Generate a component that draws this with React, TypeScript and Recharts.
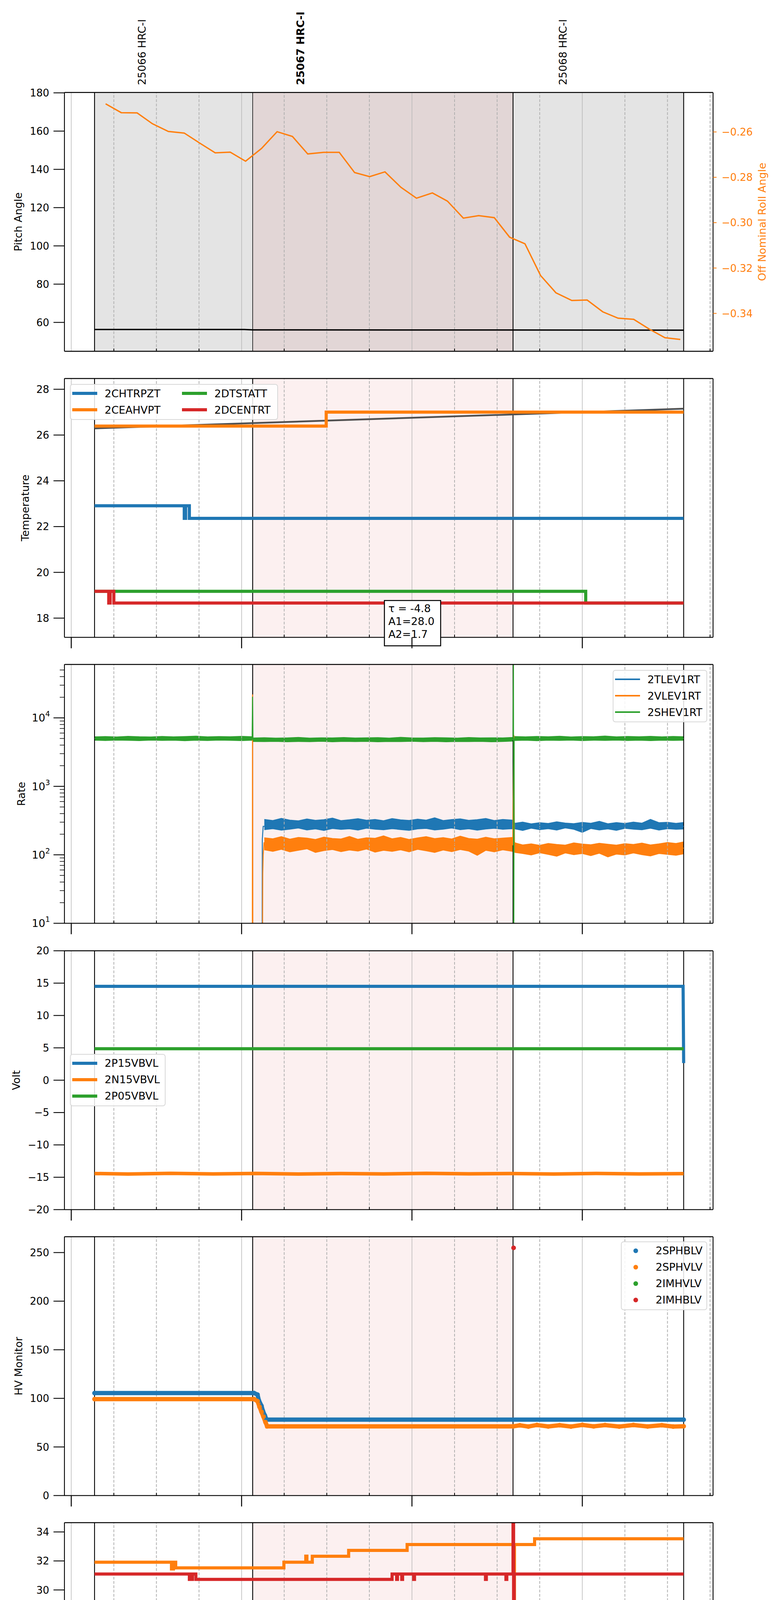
import React from "react";
import { ComposedChart, Line, Area, XAxis, YAxis, ReferenceLine, ReferenceArea, ReferenceDot, Legend } from "recharts";

const FONT = "DejaVu Sans";
const BLUE = "#1f77b4";
const ORANGE = "#ff7f0e";
const GREEN = "#2ca02c";
const RED = "#d62728";

// time axis: minutes after 04:00 on 2021-07-03
const X_DOMAIN: [number, number] = [-2.4, 226.05];
const quarterTicks = [0, 15, 30, 45, 60, 75, 90, 105, 120, 135, 150, 165, 180, 195, 210, 225];
const hourTicks = [0, 60, 120, 180];
const hourLabels = ["04h", "05h", "06h", "07h"];
const dateLabel = "2021-07-03 (184)";

const obsBounds = [8.2, 63.9, 155.6, 215.7];
const obsIds = ["25066 HRC-I", "25067 HRC-I", "25068 HRC-I"];
const obsLabelT = [24.9, 80.7, 173.2];
const currentObs = "25067 HRC-I";

// panel 1: pitch / off nominal roll
const pitchAngle = [[8.2, 56.3], [61.0, 56.3], [64.0, 56.1], [215.7, 55.95]];
const rollAngle = [
  [12.1, -0.2476], [17.6, -0.2515], [23.2, -0.2516], [28.6, -0.2564], [34.2, -0.2598], [39.8, -0.2605],
  [45.1, -0.2648], [50.7, -0.2692], [56.0, -0.2689], [61.4, -0.2729], [67.0, -0.2673], [72.5, -0.2599],
  [77.9, -0.262], [83.3, -0.2697], [88.9, -0.269], [94.4, -0.269], [99.8, -0.2779], [105.1, -0.2797],
  [110.5, -0.2776], [116.1, -0.2844], [121.6, -0.2892], [127.2, -0.2869], [132.5, -0.2905], [138.1, -0.298],
  [143.5, -0.2969], [149.0, -0.2978], [154.4, -0.3064], [159.8, -0.3093], [165.3, -0.3233], [170.7, -0.3309],
  [176.3, -0.3343], [181.7, -0.3341], [187.2, -0.3393], [192.6, -0.3421], [198.1, -0.3426], [203.7, -0.347],
  [209.1, -0.3507], [214.5, -0.3515],
];

// panel 2: temperature
const tempChtrpzt = [[8.2, 22.91], [39.8, 22.36], [40.3, 22.91], [41.6, 22.36], [215.7, 22.36]];
const tempCeahvpt = [[8.2, 26.39], [89.8, 27.0], [215.7, 27.0]];
const tempDtstatt = [[8.2, 19.17], [181.2, 18.66], [215.7, 18.66]];
const tempDcentrt = [[8.2, 19.17], [13.2, 18.66], [13.7, 19.17], [15.0, 18.66], [215.7, 18.66]];
const tempFit = [[8.2, 26.29], [215.7, 27.15]];
const fitText = ["τ = -4.8", "A1=28.0", "A2=1.7"];
const fitBoxAt = [120.2, 18.77];

// panel 3: rates  [t, low, high] bands + single traces
const tlevBand = [
  [68, 232, 330], [71, 240, 318], [74, 228, 342], [77, 236, 322], [80, 245, 315], [83, 230, 335], [86, 238, 320],
  [89, 226, 328], [92, 241, 345], [95, 234, 317], [98, 239, 326], [101, 229, 338], [104, 244, 321], [107, 236, 330],
  [110, 231, 316], [113, 240, 340], [116, 233, 325], [119, 227, 319], [122, 238, 333], [125, 242, 322], [128, 230, 348],
  [131, 236, 318], [134, 245, 329], [137, 232, 336], [140, 239, 320], [143, 228, 327], [146, 237, 341], [149, 243, 318],
  [152, 235, 330], [155.4, 240, 322], [156.3, 238, 290], [159, 226, 302], [162, 244, 284], [165, 232, 296], [168, 240, 288],
  [171, 229, 305], [174, 246, 292], [177, 235, 286], [180, 212, 299], [183, 241, 290], [186, 230, 310], [189, 238, 285],
  [192, 227, 297], [195, 243, 288], [198, 236, 302], [201, 231, 291], [204, 244, 330], [207, 229, 296], [210, 240, 300],
  [213, 235, 289], [215.7, 237, 298],
];
const vlevBand = [
  [68, 118, 178], [71, 112, 172], [74, 120, 185], [77, 110, 170], [80, 116, 180], [83, 122, 176], [86, 108, 168],
  [89, 115, 182], [92, 119, 174], [95, 111, 171], [98, 117, 186], [101, 113, 169], [104, 121, 178], [107, 109, 175],
  [110, 116, 190], [113, 112, 172], [116, 118, 180], [119, 110, 168], [122, 120, 177], [125, 114, 185], [128, 108, 173],
  [131, 117, 179], [134, 111, 171], [137, 119, 188], [140, 113, 174], [143, 98, 170], [146, 116, 181], [149, 110, 172],
  [152, 118, 176], [155.4, 112, 180], [156.3, 108, 150], [159, 104, 140], [162, 99, 145], [165, 107, 138], [168, 101, 147],
  [171, 95, 142], [174, 106, 139], [177, 100, 150], [180, 104, 144], [183, 97, 141], [186, 105, 148], [189, 93, 143],
  [192, 102, 139], [195, 99, 146], [198, 106, 142], [201, 100, 149], [204, 96, 140], [207, 104, 145], [210, 101, 152],
  [213, 98, 147], [215.7, 103, 155],
];
const shevBand = [
  [8.2, 4700, 5300], [12, 4650, 5350], [16, 4720, 5280], [20, 4680, 5400], [24, 4640, 5320], [28, 4710, 5290],
  [32, 4660, 5380], [36, 4700, 5310], [40, 4620, 5350], [44, 4690, 5420], [48, 4650, 5300], [52, 4720, 5360],
  [56, 4680, 5330], [60, 4640, 5390], [63.8, 4700, 5320], [64.1, 4500, 5100], [68, 4480, 5150], [72, 4520, 5080],
  [76, 4460, 5120], [80, 4500, 5200], [84, 4470, 5090], [88, 4530, 5140], [92, 4450, 5110], [96, 4510, 5180],
  [100, 4480, 5100], [104, 4520, 5130], [108, 4460, 5170], [112, 4500, 5090], [116, 4490, 5210], [120, 4530, 5120],
  [124, 4470, 5100], [128, 4510, 5160], [132, 4460, 5130], [136, 4500, 5090], [140, 4480, 5180], [144, 4520, 5110],
  [148, 4450, 5140], [152, 4500, 5120], [155.5, 4560, 5200], [156.1, 4650, 5350], [160, 4700, 5300], [164, 4620, 5380],
  [168, 4690, 5320], [172, 4660, 5410], [176, 4710, 5290], [180, 4640, 5360], [184, 4700, 5330], [188, 4670, 5440],
  [192, 4720, 5300], [196, 4650, 5370], [200, 4690, 5320], [204, 4630, 5400], [208, 4700, 5310], [212, 4670, 5380],
  [215.7, 4690, 5330],
];
const tlevLine = [[67.2, 1], [67.3, 170], [67.6, 260], [155.5, 270], [155.9, 250], [215.7, 260]];
const vlevLine = [
  [63.75, 1], [63.85, 22000], [63.95, 1], [67.3, 1], [67.45, 54], [67.6, 100], [67.9, 150],
  [155.5, 140], [155.9, 5600], [156.1, 130], [215.7, 125],
];
const shevLine = [
  [8.2, 5000], [63.7, 4900], [63.85, 20300], [64.0, 4750], [155.6, 4800], [155.75, 90000],
  [155.85, 1], [156.0, 4950], [215.7, 5000],
];

// panel 4: volt
const voltP15 = [[8.2, 14.51], [215.5, 14.51], [215.7, 2.64]];
const voltN15 = [
  [8.2, -14.42], [20, -14.5], [35, -14.4], [50, -14.48], [65, -14.41], [80, -14.5], [95, -14.43], [110, -14.49],
  [125, -14.4], [140, -14.47], [155, -14.42], [170, -14.5], [185, -14.41], [200, -14.48], [215.7, -14.44],
];
const voltP05 = [[8.2, 4.87], [215.7, 4.87]];

// panel 5: HV monitor
const hvSphblv = [[8.2, 105.4], [64.4, 105.4], [65.6, 103.8], [66.1, 97.7], [67.0, 92.3], [67.5, 87.1], [68.2, 82.3], [68.8, 78.1], [215.7, 78.1]];
const hvSphvlv = [
  [8.2, 99.2], [64.4, 99.2], [65.6, 97.1], [66.3, 91.4], [67.0, 86.2], [67.7, 81.2], [68.4, 75.6], [69.0, 71.2],
  [155.6, 71.2], [158, 72.3], [161, 71.0], [164, 72.6], [168, 71.1], [172, 72.4], [176, 71.0], [180, 72.7],
  [184, 71.2], [188, 72.5], [193, 71.0], [198, 72.6], [203, 71.1], [208, 72.4], [212, 71.0], [215.7, 71.3],
];
const hvImhvlv: number[][] = [];
const hvImhblv = [[155.8, 254.8]];

// panel 6: detector temp
const detSpinatm = [[8.2, 18.27], [215.7, 18.27]];
const detSphvatm = [
  [8.2, 31.91], [35.3, 31.45], [36.0, 31.91], [36.8, 31.52], [74.9, 31.91], [82.6, 32.33], [83.0, 31.91],
  [84.9, 32.32], [97.7, 32.73], [118.3, 33.13], [155.9, 19.0], [156.1, 33.13], [163.2, 33.53], [215.7, 33.53],
];
const detIminatm = [
  [8.2, 19.61], [52.6, 18.94], [53.7, 19.61], [54.5, 18.94], [69.5, 19.61], [69.8, 18.94], [100.4, 19.61],
  [100.7, 18.94], [156.6, 10], [156.8, 18.94], [215.7, 18.94],
];
const detImhvatm = [
  [8.2, 31.1], [41.6, 30.73], [42.7, 31.1], [43.9, 30.73], [113.0, 31.1], [114.6, 30.73], [114.9, 31.1],
  [116.4, 30.73], [116.7, 31.1], [120.6, 30.73], [120.9, 31.1], [145.9, 30.73], [146.2, 31.1], [153.1, 30.73],
  [153.4, 31.1], [155.6, 45], [155.8, 5], [156.0, 31.1], [215.7, 31.1],
];

// panel 7: FEA temp
const feaFhtrmzt = [[8.2, 21.28], [115.6, 20.74], [215.7, 20.74]];
const feaFradpyt = [[8.2, 16.2], [82.8, 15.7], [215.7, 15.7]];
const feaFepratm = [
  [8.2, 23.14], [146.6, 22.41], [146.9, 23.14], [147.4, 22.41], [147.7, 23.14], [148.3, 22.41], [148.6, 23.14],
  [149.7, 22.41], [155.2, 21.1], [155.4, 22.41], [215.7, 22.41],
];
const feaFe00atm = [
  [8.2, 21.41], [75.7, 21.05], [76.0, 21.41], [78.0, 22.05], [78.3, 21.41], [85.9, 21.05], [86.2, 21.41],
  [88.5, 22.05], [88.8, 21.41], [92.2, 22.05], [92.5, 21.41], [104.3, 21.05], [104.6, 21.41], [108.3, 21.08],
  [108.8, 21.41], [109.3, 21.08], [110.1, 20.45], [110.4, 21.08], [111.7, 21.41], [112.0, 21.08], [114.8, 22.05],
  [115.1, 21.08], [118.3, 21.41], [118.6, 21.08], [121.8, 21.41], [122.3, 21.08], [130.6, 21.41], [130.9, 21.08],
  [132.2, 21.41], [132.5, 21.08], [140.1, 21.41], [140.4, 21.08], [144.1, 21.75], [144.4, 21.08], [149.7, 21.41],
  [150.0, 21.08], [155.6, 26], [155.8, 13], [156.0, 21.08], [200.3, 20.76], [201.2, 21.08], [201.6, 20.76],
  [202.5, 21.08], [209.4, 20.76], [209.8, 21.08], [214.7, 20.76], [215.7, 20.76],
];

// y axes
const pitchTicks = [60, 80, 100, 120, 140, 160, 180];
const rollTicks = [-0.34, -0.32, -0.3, -0.28, -0.26];
const tempTicks = [18, 20, 22, 24, 26, 28];
const rateMajor = [10, 100, 1000, 10000];
const rateTicks = [
  10, 20, 30, 40, 50, 60, 70, 80, 90, 100, 200, 300, 400, 500, 600, 700, 800, 900,
  1000, 2000, 3000, 4000, 5000, 6000, 7000, 8000, 9000, 10000, 20000, 30000, 40000, 50000,
];
const voltTicks = [-20, -15, -10, -5, 0, 5, 10, 15, 20];
const hvTicks = [0, 50, 100, 150, 200, 250];
const detTicks = [18, 20, 22, 24, 26, 28, 30, 32, 34];
const feaTicks = [16, 18, 20, 22, 24];

// layout
const PLOT_L = 165;
const PLOT_R = 1826;
const PLOT_H = 662.6;
const PANEL_TOPS = [236.7, 969, 1701.3, 2433.6, 3165.9, 3898.2, 4630.5];

const pts = (a: number[][]) => a.map(([t, v]) => ({ t, v }));
const band = (a: number[][]) => a.map(([t, lo, hi]) => ({ t, r: [lo, hi] }));
const minus = (s: string) => s.replace("-", "\u2212");

function XTick({ x, y, payload, major, labels }: any) {
  const v = payload.value;
  const hi = hourTicks.indexOf(v);
  if (hi >= 0) {
    return (
      <g>
        {major && <line x1={x} x2={x} y1={y} y2={y + 28} stroke="#000" strokeWidth={2.5} />}
        {labels && (
          <text x={x} y={y + 57} textAnchor="middle" fontSize={26} fontFamily={FONT}>{hourLabels[hi]}</text>
        )}
      </g>
    );
  }
  return (
    <g>
      <line x1={x} x2={x} y1={y - 7} y2={y} stroke="#000" strokeWidth={2} />
      {labels && (
        <text x={x} y={y + 19} textAnchor="middle" fontSize={18} fontFamily={FONT}>{v % 60}</text>
      )}
    </g>
  );
}

function YTick({ x, y, payload, majors, log, right, color, digits }: any) {
  const v = payload.value;
  const isMajor = !majors || majors.includes(v);
  const c = color || "#000";
  if (right) {
    return (
      <g>
        <line x1={x} x2={x + 9} y1={y} y2={y} stroke={c} strokeWidth={2} />
        <text x={x + 22} y={y} dy="0.36em" fontSize={26} fontFamily={FONT} fill={c}>{minus(v.toFixed(digits))}</text>
      </g>
    );
  }
  const len = isMajor ? 28 : 12;
  return (
    <g>
      <line x1={x - len} x2={x} y1={y} y2={y} stroke={c} strokeWidth={isMajor ? 2.2 : 1.5} />
      {isMajor && !log && (
        <text x={x - 39} y={y} dy="0.36em" textAnchor="end" fontSize={26} fontFamily={FONT} fill={c}>{minus(String(v))}</text>
      )}
      {isMajor && log && (
        <text x={x - 37} y={y} dy="0.36em" textAnchor="end" fontSize={27} fontFamily={FONT} fill={c}>
          10<tspan dy={-13} fontSize={19}>{Math.round(Math.log10(v))}</tspan>
        </text>
      )}
    </g>
  );
}

function LegendBox({ items, cols, colW, lineW }: any) {
  const rows = Math.ceil(items.length / cols);
  return (
    <div
      style={{
        boxSizing: "border-box",
        border: "2px solid #d8d8d8",
        borderRadius: 7,
        background: "rgba(255,255,255,0.85)",
        padding: "1px 8px 3px 4px",
        display: "grid",
        gridAutoFlow: "column",
        gridTemplateRows: `repeat(${rows}, 42px)`,
        gridTemplateColumns: cols > 1 ? `${colW}px auto` : "auto",
        fontFamily: FONT,
        fontSize: 27,
        color: "#000",
        lineHeight: 1,
      }}
    >
      {items.map((it: any) => (
        <div key={it.name} style={{ display: "flex", alignItems: "center", height: 42 }}>
          {it.dot ? (
            <div style={{ width: 64, display: "flex", justifyContent: "center" }}>
              <div style={{ width: 12, height: 12, borderRadius: 6, background: it.color }} />
            </div>
          ) : (
            <div style={{ width: 64, height: lineW, background: it.color }} />
          )}
          <span style={{ marginLeft: 19 }}>{it.name}</span>
        </div>
      ))}
    </div>
  );
}

function FitBox({ cx, cy }: any) {
  return (
    <g>
      <rect x={cx - 72} y={cy} width={144} height={116} fill="#fff" stroke="#000" strokeWidth={2.5} />
      {fitText.map((s, i) => (
        <text key={s} x={cx - 62} y={cy + 30 + i * 33} fontSize={27} fontFamily={FONT}>{s}</text>
      ))}
    </g>
  );
}

function Panel(p: any) {
  const mTop = p.mTop ?? 30;
  const xH = p.xH ?? 60;
  const midY = mTop + PLOT_H / 2;
  const lg = p.legend;
  return (
    <div style={{ position: "absolute", left: 0, top: p.top - mTop }}>
      <ComposedChart
        width={2000}
        height={mTop + PLOT_H + xH}
        margin={{ top: mTop, right: p.right ? 0 : 2000 - PLOT_R, bottom: 0, left: 0 }}
      >
        <XAxis
          type="number"
          dataKey="t"
          domain={X_DOMAIN}
          allowDataOverflow
          ticks={quarterTicks}
          interval={0}
          height={xH}
          axisLine={false}
          tickLine={false}
          tickSize={0}
          tickMargin={0}
          tick={(t: any) => <XTick {...t} major={!p.noMajor} labels={p.xLabels} />}
          label={
            p.xLabels
              ? () => (
                  <text x={(PLOT_L + PLOT_R) / 2} y={mTop + PLOT_H + 93} textAnchor="middle" fontSize={32} fontFamily={FONT}>
                    {dateLabel}
                  </text>
                )
              : undefined
          }
        />
        <YAxis
          type="number"
          domain={p.yDomain}
          allowDataOverflow
          scale={p.log ? "log" : "auto"}
          ticks={p.yTicks}
          interval={0}
          width={PLOT_L}
          axisLine={false}
          tickLine={false}
          tickSize={0}
          tickMargin={0}
          tick={(t: any) => <YTick {...t} majors={p.yMajors} log={p.log} />}
          label={() => (
            <text
              x={p.yLabelX}
              y={midY}
              transform={`rotate(-90 ${p.yLabelX} ${midY})`}
              textAnchor="middle"
              dominantBaseline="central"
              fontSize={27}
              fontFamily={FONT}
            >
              {p.yLabel}
            </text>
          )}
        />
        {p.right && (
          <YAxis
            yAxisId="r"
            orientation="right"
            type="number"
            domain={p.right.domain}
            allowDataOverflow
            ticks={p.right.ticks}
            interval={0}
            width={2000 - PLOT_R}
            axisLine={false}
            tickLine={false}
            tickSize={0}
            tickMargin={0}
            tick={(t: any) => <YTick {...t} right color={p.right.color} digits={2} />}
            label={() => (
              <text
                x={p.right.labelX}
                y={midY}
                transform={`rotate(-90 ${p.right.labelX} ${midY})`}
                textAnchor="middle"
                dominantBaseline="central"
                fontSize={27}
                fontFamily={FONT}
                fill={p.right.color}
              >
                {p.right.label}
              </text>
            )}
          />
        )}
        {p.grey && (
          <ReferenceArea x1={obsBounds[0]} x2={obsBounds[3]} fill="rgba(0,0,0,0.105)" fillOpacity={1} stroke="none" />
        )}
        <ReferenceArea x1={obsBounds[1]} x2={obsBounds[2]} fill="rgba(214,39,40,0.07)" fillOpacity={1} stroke="none" />
        {quarterTicks.map((v) =>
          hourTicks.includes(v) ? (
            <ReferenceLine key={"g" + v} x={v} stroke="#b8b8b8" strokeWidth={1.5} />
          ) : (
            <ReferenceLine key={"g" + v} x={v} stroke="#b0b0b0" strokeWidth={2} strokeDasharray="7 4" />
          )
        )}
        {obsBounds.map((v, i) => (
          <ReferenceLine key={"o" + v} x={v} stroke="#000" strokeWidth={p.grey && i === 1 ? 1.5 : 2.2} />
        ))}
        {p.obsLabels &&
          obsLabelT.map((t, i) => (
            <ReferenceLine
              key={"l" + t}
              x={t}
              stroke="none"
              label={(lp: any) => {
                const vx = lp?.viewBox?.x ?? 0;
                const vy = (lp?.viewBox?.y ?? mTop) - 19;
                return (
                  <text
                    x={vx}
                    y={vy}
                    transform={`rotate(-90 ${vx} ${vy})`}
                    dominantBaseline="central"
                    fontSize={27}
                    fontFamily={FONT}
                    fontWeight={obsIds[i] === currentObs ? "bold" : "normal"}
                  >
                    {obsIds[i]}
                  </text>
                );
              }}
            />
          ))}
        {p.children}
        <ReferenceLine y={p.yDomain[0]} stroke="#000" strokeWidth={2.4} ifOverflow="visible" />
        <ReferenceLine y={p.yDomain[1]} stroke="#000" strokeWidth={2.4} ifOverflow="visible" />
        <ReferenceLine x={X_DOMAIN[0]} stroke="#000" strokeWidth={2.2} ifOverflow="visible" />
        <ReferenceLine x={X_DOMAIN[1]} stroke="#000" strokeWidth={2.2} ifOverflow="visible" />
        {lg && (
          <Legend
            layout="horizontal"
            verticalAlign="middle"
            align="center"
            wrapperStyle={{ left: lg.left, top: mTop + lg.top, width: lg.width }}
            content={() => <LegendBox items={lg.items} cols={lg.cols || 1} colW={lg.colW} lineW={lg.lineW || 8} />}
          />
        )}
      </ComposedChart>
    </div>
  );
}

const common = { isAnimationActive: false, dot: false, activeDot: false, legendType: "none" as const };

function StepLine({ data, color, width = 8, type = "stepAfter", yAxisId }: any) {
  return (
    <Line
      {...common}
      data={pts(data)}
      dataKey="v"
      type={type}
      stroke={color}
      strokeWidth={width}
      yAxisId={yAxisId}
    />
  );
}

export default function App() {
  return (
    <div style={{ position: "absolute", left: 0, top: 0, width: 2000, height: 5400, background: "#fff", overflow: "hidden" }}>
      {/* pitch and roll */}
      <Panel
        top={PANEL_TOPS[0]}
        mTop={PANEL_TOPS[0]}
        yDomain={[44.9, 180.2]}
        yTicks={pitchTicks}
        yLabel="Pitch Angle"
        yLabelX={47}
        grey
        noMajor
        obsLabels
        right={{ domain: [-0.3567, -0.2426], ticks: rollTicks, label: "Off Nominal Roll Angle", labelX: 1952, color: ORANGE }}
      >
        <Line {...common} data={pts(pitchAngle)} dataKey="v" type="linear" stroke="#000" strokeWidth={3.5} />
        <Line {...common} yAxisId="r" data={pts(rollAngle)} dataKey="v" type="linear" stroke={ORANGE} strokeWidth={3.5} />
      </Panel>

      {/* temperature */}
      <Panel
        top={PANEL_TOPS[1]}
        yDomain={[17.16, 28.47]}
        yTicks={tempTicks}
        yLabel="Temperature"
        yLabelX={64}
        legend={{
          left: 179,
          top: 14,
          width: 533,
          cols: 2,
          colW: 281,
          items: [
            { name: "2CHTRPZT", color: BLUE },
            { name: "2CEAHVPT", color: ORANGE },
            { name: "2DTSTATT", color: GREEN },
            { name: "2DCENTRT", color: RED },
          ],
        }}
      >
        <StepLine data={tempFit} color="#505050" width={4.5} type="linear" />
        <StepLine data={tempChtrpzt} color={BLUE} />
        <StepLine data={tempCeahvpt} color={ORANGE} />
        <StepLine data={tempDtstatt} color={GREEN} />
        <StepLine data={tempDcentrt} color={RED} />
        <ReferenceDot x={fitBoxAt[0]} y={fitBoxAt[1]} r={0} shape={(sp: any) => <FitBox {...sp} />} />
      </Panel>

      {/* rates */}
      <Panel
        top={PANEL_TOPS[2]}
        yDomain={[10, 60260]}
        yTicks={rateTicks}
        yMajors={rateMajor}
        log
        yLabel="Rate"
        yLabelX={54}
        legend={{
          left: 1569,
          top: 14,
          width: 242,
          lineW: 4,
          items: [
            { name: "2TLEV1RT", color: BLUE },
            { name: "2VLEV1RT", color: ORANGE },
            { name: "2SHEV1RT", color: GREEN },
          ],
        }}
      >
        <Area {...common} data={band(tlevBand)} dataKey="r" type="linear" stroke={BLUE} strokeWidth={1.5} fill={BLUE} fillOpacity={1} />
        <StepLine data={tlevLine} color={BLUE} width={2.5} type="linear" />
        <Area {...common} data={band(vlevBand)} dataKey="r" type="linear" stroke={ORANGE} strokeWidth={1.5} fill={ORANGE} fillOpacity={1} />
        <StepLine data={vlevLine} color={ORANGE} width={2.5} type="linear" />
        <Area {...common} data={band(shevBand)} dataKey="r" type="linear" stroke={GREEN} strokeWidth={1.5} fill={GREEN} fillOpacity={1} />
        <StepLine data={shevLine} color={GREEN} width={2.5} type="linear" />
      </Panel>

      {/* volt */}
      <Panel
        top={PANEL_TOPS[3]}
        yDomain={[-20, 20]}
        yTicks={voltTicks}
        yLabel="Volt"
        yLabelX={41}
        legend={{
          left: 179,
          top: 264,
          width: 245,
          items: [
            { name: "2P15VBVL", color: BLUE },
            { name: "2N15VBVL", color: ORANGE },
            { name: "2P05VBVL", color: GREEN },
          ],
        }}
      >
        <StepLine data={voltP15} color={BLUE} type="linear" />
        <StepLine data={voltN15} color={ORANGE} width={9} type="linear" />
        <StepLine data={voltP05} color={GREEN} type="linear" />
      </Panel>

      {/* HV monitor */}
      <Panel
        top={PANEL_TOPS[4]}
        yDomain={[0, 266.3]}
        yTicks={hvTicks}
        yLabel="HV Monitor"
        yLabelX={47}
        legend={{
          left: 1590,
          top: 12,
          width: 221,
          items: [
            { name: "2SPHBLV", color: BLUE, dot: true },
            { name: "2SPHVLV", color: ORANGE, dot: true },
            { name: "2IMHVLV", color: GREEN, dot: true },
            { name: "2IMHBLV", color: RED, dot: true },
          ],
        }}
      >
        <Line {...common} data={pts(hvSphblv)} dataKey="v" type="linear" stroke={BLUE} strokeWidth={11}
          dot={{ r: 6, fill: BLUE, stroke: BLUE, strokeWidth: 0 }} />
        <Line {...common} data={pts(hvSphvlv)} dataKey="v" type="linear" stroke={ORANGE} strokeWidth={11}
          dot={{ r: 6, fill: ORANGE, stroke: ORANGE, strokeWidth: 0 }} />
        <Line {...common} data={pts(hvImhvlv)} dataKey="v" type="linear" stroke={GREEN} strokeWidth={0}
          dot={{ r: 6, fill: GREEN, stroke: GREEN, strokeWidth: 0 }} />
        <Line {...common} data={pts(hvImhblv)} dataKey="v" type="linear" stroke={RED} strokeWidth={0}
          dot={{ r: 6, fill: RED, stroke: RED, strokeWidth: 0 }} />
      </Panel>

      {/* detector temp */}
      <Panel
        top={PANEL_TOPS[5]}
        yDomain={[16.79, 34.64]}
        yTicks={detTicks}
        yLabel="Detector Temp"
        yLabelX={64}
        legend={{
          left: 1566,
          top: 242,
          width: 245,
          items: [
            { name: "2SPINATM", color: BLUE },
            { name: "2SPHVATM", color: ORANGE },
            { name: "2IMINATM", color: GREEN },
            { name: "2IMHVATM", color: RED },
          ],
        }}
      >
        <StepLine data={detSpinatm} color={BLUE} />
        <StepLine data={detSphvatm} color={ORANGE} />
        <StepLine data={detIminatm} color={GREEN} />
        <StepLine data={detImhvatm} color={RED} />
      </Panel>

      {/* FEA temp */}
      <Panel
        top={PANEL_TOPS[6]}
        xH={105}
        xLabels
        yDomain={[14.2, 24.63]}
        yTicks={feaTicks}
        yLabel="FEA Temp"
        yLabelX={64}
        legend={{
          left: 179,
          top: 241,
          width: 251,
          items: [
            { name: "2FHTRMZT", color: BLUE },
            { name: "2FRADPYT", color: ORANGE },
            { name: "2FEPRATM", color: GREEN },
            { name: "2FE00ATM", color: RED },
          ],
        }}
      >
        <StepLine data={feaFhtrmzt} color={BLUE} />
        <StepLine data={feaFradpyt} color={ORANGE} />
        <StepLine data={feaFepratm} color={GREEN} />
        <StepLine data={feaFe00atm} color={RED} />
      </Panel>
    </div>
  );
}
